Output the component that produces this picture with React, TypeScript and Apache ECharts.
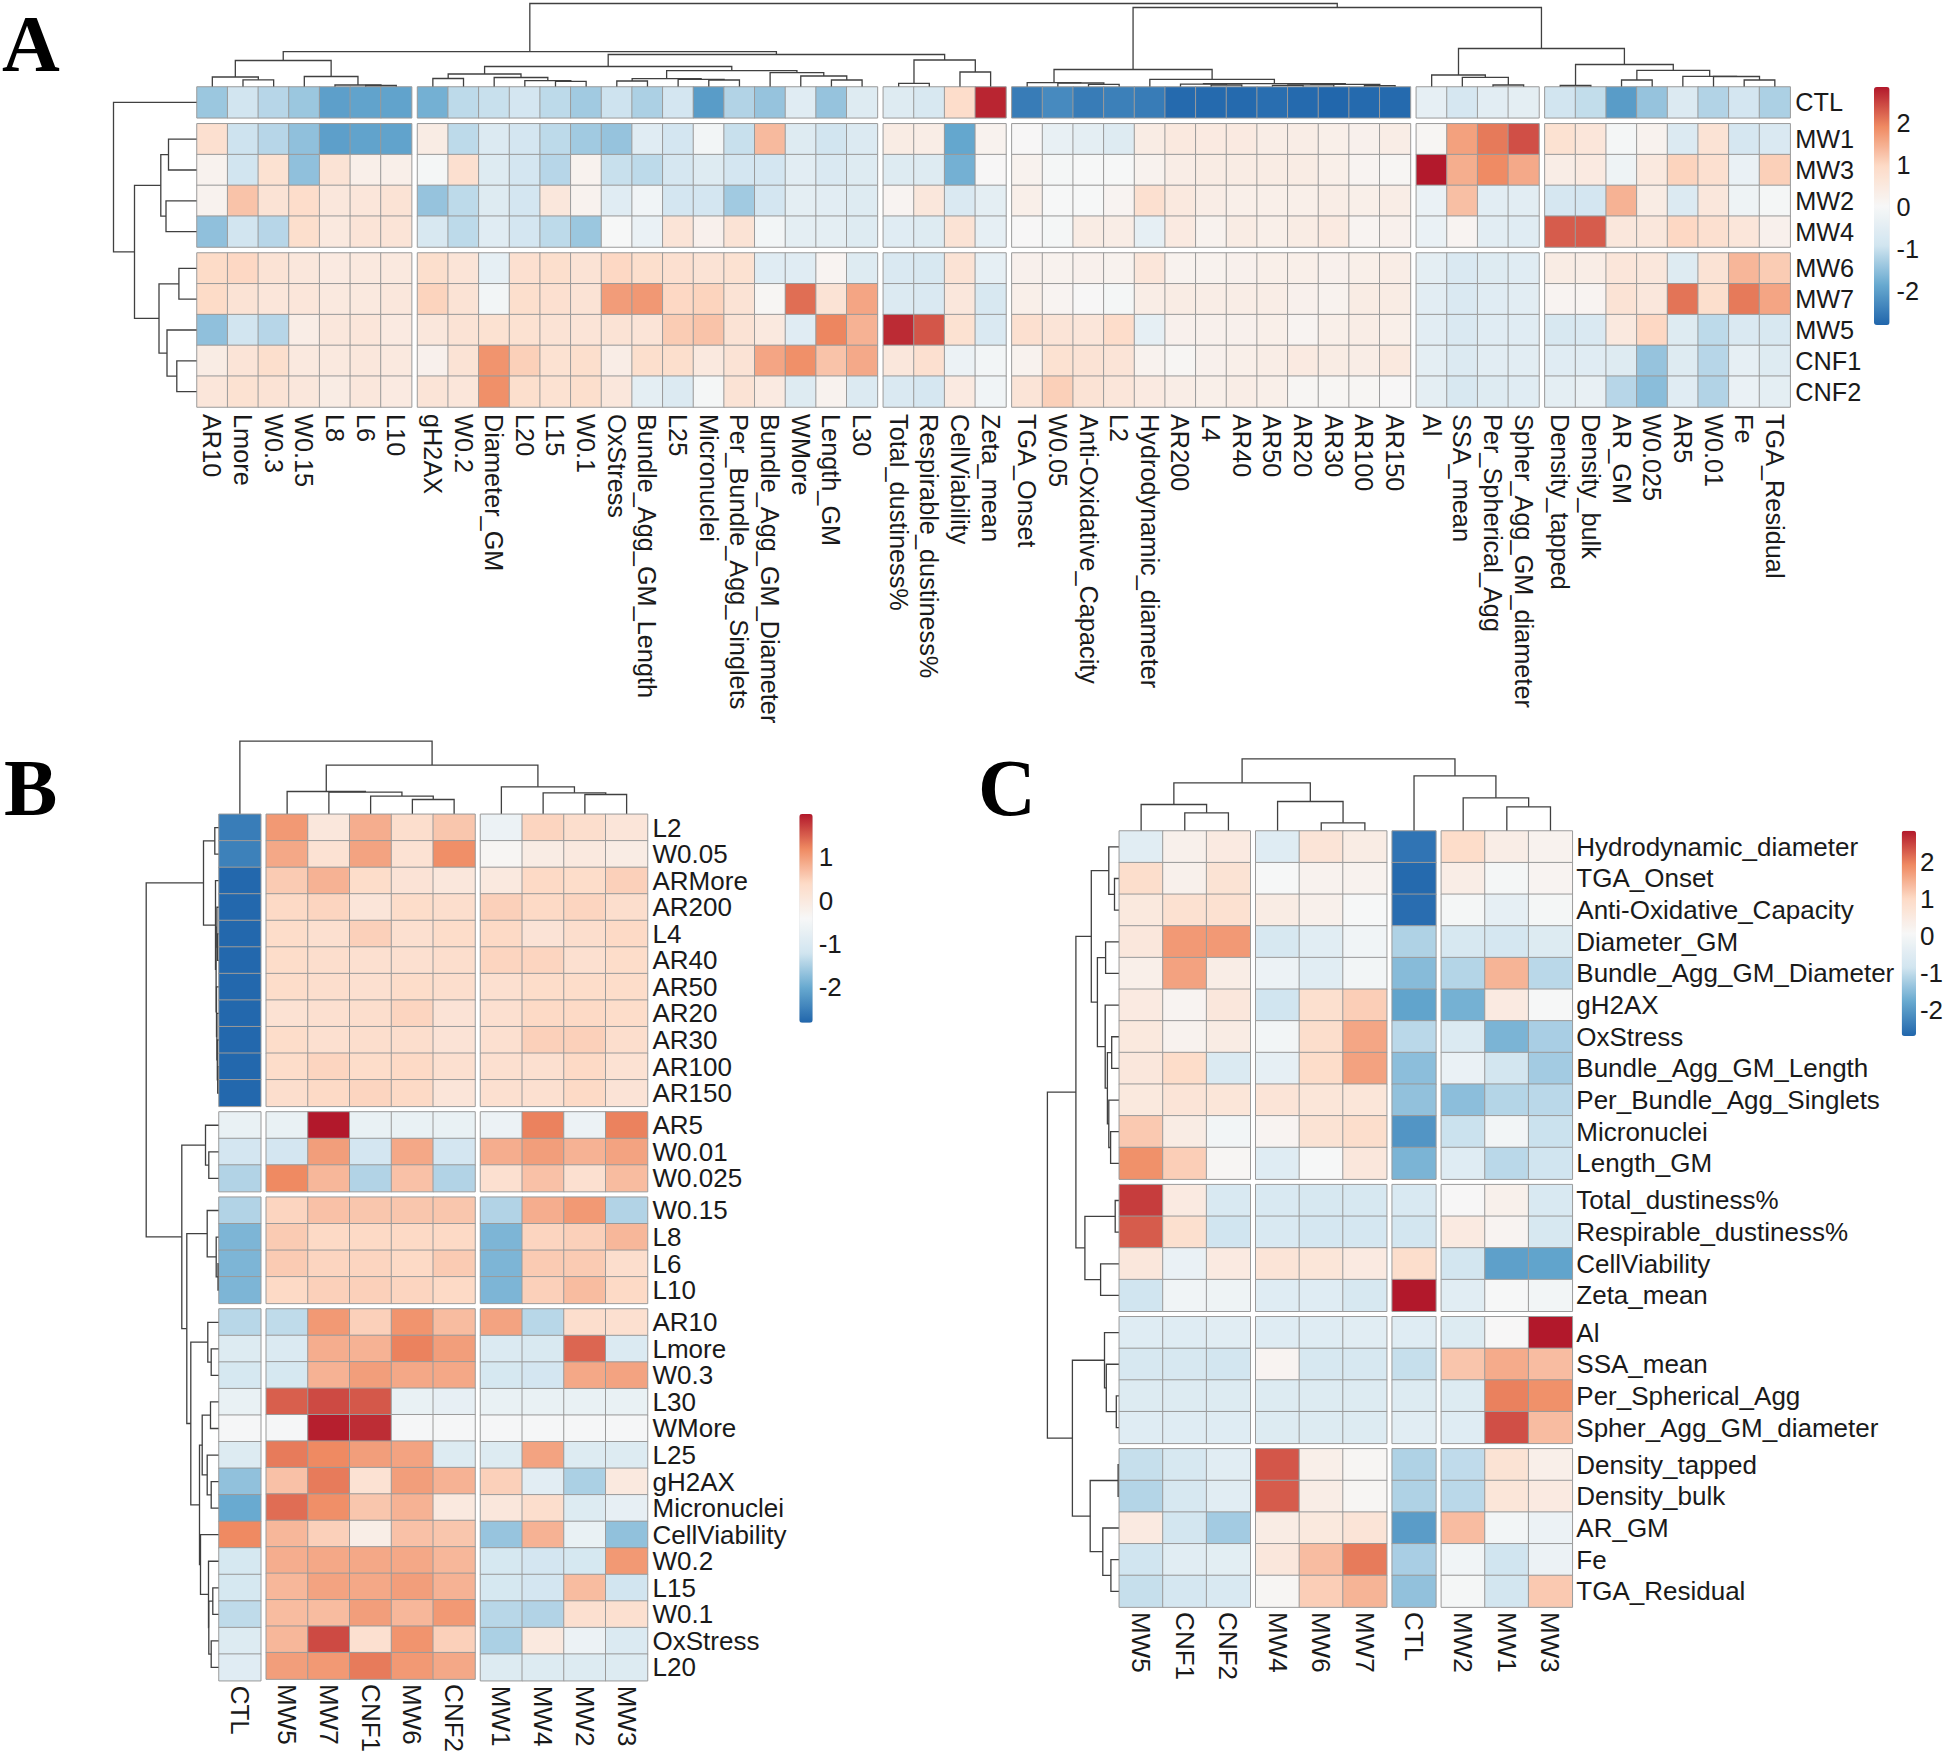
import React, { useEffect, useRef } from "react";
import * as echarts from "echarts";

type Tree = string | [number, Tree, Tree];

const palette = ["#2166AC", "#67A9CF", "#D1E5F0", "#F7F7F7", "#FDDBC7", "#EF8A62", "#B2182B"];
const sansFont = '"Liberation Sans", Arial, sans-serif';
const legendTicks = [-2, -1, 0, 1, 2];

/* ---------- Panel A ---------- */
const aColBlocks = [
  ["AR10", "Lmore", "W0.3", "W0.15", "L8", "L6", "L10"],
  ["gH2AX", "W0.2", "Diameter_GM", "L20", "L15", "W0.1", "OxStress", "Bundle_Agg_GM_Length", "L25", "Micronuclei", "Per_Bundle_Agg_Singlets", "Bundle_Agg_GM_Diameter", "WMore", "Length_GM", "L30"],
  ["Total_dustiness%", "Respirable_dustiness%", "CellViability", "Zeta_mean"],
  ["TGA_Onset", "W0.05", "Anti-Oxidative_Capacity", "L2", "Hydrodynamic_diameter", "AR200", "L4", "AR40", "AR50", "AR20", "AR30", "AR100", "AR150"],
  ["Al", "SSA_mean", "Per_Spherical_Agg", "Spher_Agg_GM_diameter"],
  ["Density_tapped", "Density_bulk", "AR_GM", "W0.025", "AR5", "W0.01", "Fe", "TGA_Residual"],
];
const aRowBlocks = [["CTL"], ["MW1", "MW3", "MW2", "MW4"], ["MW6", "MW7", "MW5", "CNF1", "CNF2"]];
const aBlock1 = [
  [-1.4, -0.9, -1.15, -1.4, -2.0, -1.95, -1.95],
  [0.8, -0.95, -1.15, -1.5, -2.0, -1.95, -1.95],
  [0.2, -0.9, 0.75, -1.5, 0.7, 0.3, 0.3],
  [0.2, 1.25, 0.7, 0.9, 0.55, 0.6, 0.7],
  [-1.5, -0.9, -1.15, 0.85, 0.5, 0.65, 0.65],
  [0.95, 1.0, 0.7, 0.55, 0.45, 0.5, 0.5],
  [0.95, 0.7, 0.6, 0.6, 0.5, 0.5, 0.55],
  [-1.5, -0.9, -1.15, 0.35, 0.55, 0.6, 0.45],
  [0.4, 0.65, 0.85, 0.5, 0.5, 0.55, 0.5],
  [0.6, 0.75, 0.7, 0.55, 0.4, 0.55, 0.45],
];
const aBlock2 = [
  [-1.75, -1.1, -1.0, -0.85, -1.1, -1.35, -0.95, -1.25, -0.85, -2.05, -1.2, -1.45, -0.55, -1.45, -0.6],
  [0.4, -1.1, -0.65, -0.85, -1.1, -1.35, -1.45, -0.55, -0.85, -0.1, -1.0, 1.35, -0.6, -0.9, -0.65],
  [-0.05, 0.8, -0.6, -0.85, -1.15, 0.2, -1.0, -1.1, -0.8, -0.6, -0.85, -0.85, -0.5, -0.7, -0.6],
  [-1.45, -1.1, -0.6, -0.85, 0.55, 0.2, -0.55, -0.15, -0.85, -0.85, -1.35, -0.85, -0.45, -0.5, -0.6],
  [-0.75, -1.1, -0.55, -0.85, -1.1, -1.4, 0.0, -0.3, 0.65, 0.25, 0.7, -0.1, -0.45, -0.45, -0.6],
  [0.85, 0.65, -0.4, 0.8, 0.85, 0.7, 1.0, 0.85, 0.8, 0.7, 0.75, -0.55, -0.55, 0.15, -0.6],
  [1.05, 0.7, -0.1, 0.85, 0.8, 0.7, 1.7, 1.75, 1.0, 1.05, 0.7, 0.1, 2.15, 0.7, 1.6],
  [0.55, 0.7, 0.75, 0.75, 0.7, 0.65, 0.7, 0.65, 1.15, 1.25, 0.7, 0.5, -0.55, 1.95, 1.45],
  [0.25, 0.7, 1.8, 1.1, 0.75, 0.85, 0.35, 0.85, 0.85, 0.5, 0.7, 1.6, 1.85, 1.25, 1.55],
  [0.65, 0.6, 1.85, 0.85, 0.75, 0.85, 0.55, -0.45, -0.65, -0.05, 0.7, 0.45, -0.6, 0.2, -0.65],
];
const aBlock3 = [
  [-0.6, -0.75, 0.9, 2.75],
  [0.4, 0.35, -1.9, 0.2],
  [-0.6, -0.6, -1.75, 0.05],
  [0.15, 0.55, -0.7, -0.45],
  [-0.55, -0.6, 0.7, -0.4],
  [-0.7, -0.75, 0.7, -0.4],
  [-0.65, -0.7, 0.55, -0.75],
  [2.7, 2.35, 0.75, -0.7],
  [0.55, 0.8, -0.25, -0.1],
  [-0.7, -0.8, 0.45, -0.15],
];
const aBlock4 = [
  [-2.5, -2.3, -2.5, -2.45, -2.5, -2.75, -2.75, -2.75, -2.7, -2.75, -2.8, -2.75, -2.75],
  [0.05, -0.35, -0.45, -0.6, 0.4, 0.5, 0.45, 0.45, 0.35, 0.35, 0.3, 0.25, 0.35],
  [0.2, -0.05, 0.0, 0.0, 0.2, 0.35, 0.4, 0.4, 0.4, 0.4, 0.3, 0.15, 0.1],
  [0.3, 0.0, 0.0, 0.15, 0.8, 0.5, 0.35, 0.3, 0.3, 0.3, 0.35, 0.3, 0.35],
  [0.05, -0.05, 0.4, 0.35, -0.4, 0.45, 0.2, 0.4, 0.3, 0.4, 0.45, 0.15, 0.25],
  [0.25, 0.2, 0.25, 0.2, 0.6, 0.2, 0.2, 0.25, 0.3, 0.3, 0.25, 0.3, 0.35],
  [0.3, 0.15, 0.05, -0.05, 0.35, 0.4, 0.35, 0.35, 0.35, 0.25, 0.2, 0.4, 0.4],
  [0.8, 0.65, 0.6, 0.9, -0.4, 0.25, 0.25, 0.25, 0.3, 0.15, 0.3, 0.35, 0.3],
  [0.2, 0.75, 0.7, 0.65, 0.2, 0.1, 0.25, 0.3, 0.35, 0.45, 0.4, 0.35, 0.5],
  [0.65, 1.1, 0.7, 0.6, 0.45, 0.35, 0.3, 0.35, 0.3, 0.1, 0.1, 0.1, 0.05],
];
const aBlock5 = [
  [-0.4, -0.8, -0.5, -0.45],
  [0.1, 1.65, 2.05, 2.4],
  [2.85, 1.5, 1.9, 1.55],
  [-0.3, 1.3, -0.5, -0.5],
  [-0.3, 0.15, -0.5, -0.55],
  [-0.45, -0.7, -0.6, -0.55],
  [-0.5, -0.7, -0.55, -0.5],
  [-0.5, -0.7, -0.55, -0.55],
  [-0.45, -0.65, -0.5, -0.5],
  [-0.45, -0.75, -0.6, -0.55],
];
const aBlock6 = [
  [-0.9, -1.05, -2.05, -1.45, -0.65, -1.2, -0.85, -1.25],
  [0.75, 0.6, -0.05, 0.2, -0.65, 0.7, -0.8, -0.7],
  [0.35, 0.45, -0.2, 0.5, 1.05, 0.8, -0.3, 1.1],
  [-0.8, -0.85, 1.45, 0.4, -0.65, 0.55, -0.2, -0.05],
  [2.3, 2.3, 0.55, 0.55, 1.0, 0.8, 0.6, 0.25],
  [0.4, 0.35, 0.6, 0.55, -0.6, 0.7, 1.4, 1.15],
  [0.15, 0.15, 0.7, 0.55, 2.1, 0.85, 2.05, 1.6],
  [-0.75, -0.7, 0.5, 1.0, -0.6, -1.1, -0.7, -0.75],
  [-0.55, -0.55, -0.6, -1.45, -0.6, -1.15, -0.4, -0.6],
  [-0.45, -0.35, -1.15, -1.55, -0.55, -1.2, -0.3, -0.45],
];
const aValues = aBlock1.map((_, r) =>
  [aBlock1, aBlock2, aBlock3, aBlock4, aBlock5, aBlock6].flatMap((b) => b[r])
);
const aColTree: Tree = [83,
  [34.8,
    [26, [9.5, "AR10", [6.7, "Lmore", "W0.3"]], [10, "W0.15", [1.5, "L8", [1, "L6", "L10"]]]],
    [32,
      [20,
        [12.5, [8, "gH2AX", "W0.2"], [9, "Diameter_GM", [5.8, "L20", [5.2, "L15", "W0.1"]]]],
        [15.8,
          [7.8, [5.5, "OxStress", "Bundle_Agg_GM_Length"], [7.2, "L25", [6.5, "Micronuclei", "Per_Bundle_Agg_Singlets"]]],
          [13.8, "Bundle_Agg_GM_Diameter", [10.5, "WMore", [6.5, "Length_GM", "L30"]]]]],
      [26.5, [3.2, "Total_dustiness%", "Respirable_dustiness%"], [14.5, "CellViability", "Zeta_mean"]]]],
  [79,
    [17,
      [3.8, "TGA_Onset", [3.5, "W0.05", [2.2, "Anti-Oxidative_Capacity", "L2"]]],
      [7.2, "Hydrodynamic_diameter", [2.8, [2.4, "AR200", [1.5, "L4", "AR40"]], [2.2, [1.6, [1.2, "AR50", "AR20"], "AR30"], [0.9, "AR100", "AR150"]]]]],
    [38,
      [11.5, "Al", [9.2, "SSA_mean", [1.5, "Per_Spherical_Agg", "Spher_Agg_GM_diameter"]]],
      [22, [1, "Density_tapped", "Density_bulk"], [16.2, [6.5, "AR_GM", "W0.025"], [10.2, "AR5", [10, "W0.01", [6.5, "Fe", "TGA_Residual"]]]]]]]];
const aRowTree: Tree = [83, "CTL", [62, [35.7, [28, "MW1", "MW3"], [30.5, "MW2", "MW4"]], [37.5, [17.6, "MW6", "MW7"], [29.5, "MW5", [19.7, "CNF1", "CNF2"]]]]];

/* ---------- Panel B ---------- */
const bColBlocks = [["CTL"], ["MW5", "MW7", "CNF1", "MW6", "CNF2"], ["MW1", "MW4", "MW2", "MW3"]];
const bRowBlocks = [
  ["L2", "W0.05", "ARMore", "AR200", "L4", "AR40", "AR50", "AR20", "AR30", "AR100", "AR150"],
  ["AR5", "W0.01", "W0.025"],
  ["W0.15", "L8", "L6", "L10"],
  ["AR10", "Lmore", "W0.3", "L30", "WMore", "L25", "gH2AX", "Micronuclei", "CellViability", "W0.2", "L15", "W0.1", "OxStress", "L20"],
];
const bValues = [
  [-2.55, 1.05, 0.05, 0.85, 0.3, 0.6, -0.65, 0.45, 0.3, 0.1],
  [-2.5, 0.9, 0.2, 0.95, 0.2, 1.15, -0.35, -0.1, 0.0, -0.1],
  [-2.8, 0.55, 0.8, 0.35, 0.15, 0.05, 0.0, 0.4, 0.35, 0.5],
  [-2.8, 0.4, 0.45, 0.1, 0.35, 0.3, 0.5, 0.4, 0.45, 0.3],
  [-2.8, 0.35, 0.25, 0.5, 0.25, 0.35, 0.4, 0.15, 0.3, 0.4],
  [-2.8, 0.35, 0.3, 0.25, 0.25, 0.3, 0.45, 0.45, 0.25, 0.35],
  [-2.8, 0.35, 0.3, 0.25, 0.35, 0.3, 0.25, 0.35, 0.35, 0.35],
  [-2.8, 0.2, 0.25, 0.3, 0.45, 0.15, 0.25, 0.4, 0.4, 0.35],
  [-2.8, 0.35, 0.25, 0.3, 0.3, 0.15, 0.25, 0.5, 0.5, 0.3],
  [-2.8, 0.35, 0.45, 0.35, 0.4, 0.25, 0.25, 0.25, 0.4, 0.2],
  [-2.8, 0.3, 0.4, 0.45, 0.4, 0.1, 0.25, 0.25, 0.4, 0.15],
  [-0.7, -0.7, 2.0, -0.7, -0.7, -0.7, -0.65, 1.25, -0.65, 1.25],
  [-1.15, -1.15, 1.0, -1.15, 0.9, -1.15, 0.85, 1.0, 0.8, 0.95],
  [-1.45, 1.2, 0.75, -1.45, 0.65, -1.45, 0.25, 0.65, 0.25, 0.7],
  [-1.45, 0.45, 0.65, 0.6, 0.6, 0.6, -1.45, 0.85, 1.05, -1.45],
  [-1.85, 0.55, 0.4, 0.4, 0.4, 0.4, -1.85, 0.45, 0.5, 0.75],
  [-1.85, 0.55, 0.45, 0.45, 0.4, 0.55, -1.85, 0.55, 0.55, 0.3],
  [-1.85, 0.4, 0.5, 0.5, 0.45, 0.4, -1.85, 0.5, 0.7, 0.4],
  [-1.4, -1.35, 1.05, 0.5, 1.1, 0.7, 0.95, -1.4, 0.3, 0.25],
  [-0.95, -1.0, 0.85, 0.8, 1.25, 1.0, -1.0, -1.05, 1.45, -1.0],
  [-1.1, -1.1, 0.8, 1.0, 0.9, 0.9, -1.1, -1.15, 0.9, 0.95],
  [-0.7, 1.5, 1.65, 1.55, -0.7, -0.75, -0.7, -0.7, -0.7, -0.7],
  [-0.45, -0.45, 1.95, 1.85, -0.45, -0.45, -0.45, -0.45, -0.45, -0.45],
  [-0.95, 1.3, 1.2, 1.0, 0.95, -0.95, -0.95, 0.95, -0.95, -0.95],
  [-1.7, 0.65, 1.3, 0.2, 1.0, 0.8, 0.5, -0.85, -1.5, 0.0],
  [-2.0, 1.4, 1.15, 0.6, 0.8, 0.0, 0.05, 0.3, -0.95, -0.75],
  [1.2, 0.75, 0.5, -0.15, 0.65, 0.6, -1.65, 0.8, -0.7, -1.7],
  [-1.1, 0.85, 0.9, 0.9, 0.9, 0.75, -1.1, -1.15, -1.1, 1.05],
  [-1.1, 0.75, 0.95, 0.9, 1.0, 0.8, -1.1, -1.15, 0.7, -1.2],
  [-1.35, 0.7, 0.7, 1.0, 0.75, 1.05, -1.4, -1.45, 0.25, 0.25],
  [-0.95, 0.75, 1.65, 0.25, 1.1, 0.5, -1.5, 0.0, -0.65, -1.0],
  [-0.9, 1.0, 1.05, 1.3, 1.05, 0.9, -0.95, -0.95, -0.95, -0.95],
];
const bColTree: Tree = [72.7, "CTL", [48.7, [22.3, "MW5", [21.7, "MW7", [17.7, "CNF1", [14.3, "MW6", "CNF2"]]]], [27, "MW1", [21, "MW4", [19.3, "MW2", "MW3"]]]]];
const bRowTree: Tree = [72.3,
  [15, [3.7, "L2", "W0.05"], [3, "ARMore", [2.4, [1.6, "AR200", [1, "L4", "AR40"]], [2, "AR50", [1.6, "AR20", [1.2, "AR30", [0.8, "AR100", "AR150"]]]]]]],
  [36.7,
    [13, "AR5", [9.7, "W0.01", "W0.025"]],
    [31.7,
      [11.3, "W0.15", [2.3, "L8", [0.5, "L6", "L10"]]],
      [27.7,
        [10.7, "AR10", [7.3, "Lmore", "W0.3"]],
        [19,
          [16.3, [8, "L30", "WMore"], [11.3, "L25", [7.3, "gH2AX", "Micronuclei"]]],
          [18, "CellViability", [10, "W0.2", [9.7, [5.7, "L15", "W0.1"], [7.3, "OxStress", "L20"]]]]]]]]];

/* ---------- Panel C ---------- */
const cColBlocks = [["MW5", "CNF1", "CNF2"], ["MW4", "MW6", "MW7"], ["CTL"], ["MW2", "MW1", "MW3"]];
const cRowBlocks = [
  ["Hydrodynamic_diameter", "TGA_Onset", "Anti-Oxidative_Capacity", "Diameter_GM", "Bundle_Agg_GM_Diameter", "gH2AX", "OxStress", "Bundle_Agg_GM_Length", "Per_Bundle_Agg_Singlets", "Micronuclei", "Length_GM"],
  ["Total_dustiness%", "Respirable_dustiness%", "CellViability", "Zeta_mean"],
  ["Al", "SSA_mean", "Per_Spherical_Agg", "Spher_Agg_GM_diameter"],
  ["Density_tapped", "Density_bulk", "AR_GM", "Fe", "TGA_Residual"],
];
const cValues = [
  [-0.45, 0.3, 0.5, -0.5, 0.7, 0.45, -2.5, 0.95, 0.4, 0.25],
  [0.9, 0.3, 0.75, 0.05, 0.25, 0.25, -2.65, 0.4, 0.0, 0.2],
  [0.55, 0.8, 0.8, 0.45, 0.3, 0.05, -2.6, 0.0, -0.35, 0.0],
  [0.6, 1.75, 1.75, -0.7, -0.45, -0.1, -1.15, -0.7, -0.75, -0.55],
  [0.35, 1.65, 0.4, -0.2, -0.45, -0.05, -1.5, -1.1, 1.45, -1.05],
  [0.5, 0.2, 0.6, -0.85, 0.85, 1.15, -1.85, -1.65, 0.5, 0.05],
  [0.55, 0.25, 0.45, -0.05, 0.9, 1.6, -1.05, -0.6, -1.6, -1.2],
  [0.6, 0.95, -0.6, -0.35, 0.95, 1.65, -1.45, -0.25, -0.8, -1.25],
  [0.55, 0.7, 0.65, 0.7, 0.65, 0.65, -1.4, -1.45, -1.1, -1.05],
  [1.2, 0.45, -0.05, 0.2, 0.75, 0.9, -2.05, -0.9, -0.05, -0.9],
  [1.85, 1.15, 0.15, -0.5, 0.05, 0.6, -1.6, -0.5, -1.05, -0.85],
  [2.55, 0.5, -0.65, -0.65, -0.7, -0.7, -0.65, 0.1, 0.3, -0.65],
  [2.3, 0.85, -0.85, -0.65, -0.75, -0.75, -0.8, 0.5, 0.2, -0.7],
  [0.6, -0.25, 0.5, 0.7, 0.65, 0.5, 0.9, -0.8, -1.9, -1.85],
  [-0.85, -0.1, -0.15, -0.5, -0.5, -0.7, 2.85, -0.45, 0.05, -0.05],
  [-0.5, -0.5, -0.45, -0.5, -0.5, -0.45, -0.5, -0.55, 0.1, 2.85],
  [-0.7, -0.7, -0.8, 0.2, -0.7, -0.7, -0.95, 1.25, 1.55, 1.35],
  [-0.55, -0.55, -0.55, -0.55, -0.55, -0.55, -0.55, -0.55, 2.0, 1.85],
  [-0.5, -0.5, -0.5, -0.55, -0.55, -0.55, -0.45, -0.5, 2.4, 1.35],
  [-0.95, -0.7, -0.45, 2.35, 0.35, 0.15, -1.15, -1.0, 0.75, 0.35],
  [-1.1, -0.7, -0.45, 2.3, 0.4, 0.15, -1.15, -1.05, 0.65, 0.5],
  [0.5, -0.8, -1.25, 0.45, 0.55, 0.7, -1.95, 1.35, -0.05, -0.2],
  [-0.85, -0.45, -0.4, 0.6, 1.35, 2.05, -1.2, -0.1, -0.85, -0.2],
  [-0.95, -0.75, -0.65, 0.15, 1.15, 1.45, -1.4, 0.0, -0.8, 1.2],
];
const cColTree: Tree = [71.7, [47.7, [26, "MW5", [17.7, "CNF1", "CNF2"]], [29, "MW4", [7.7, "MW6", "MW7"]]], [54.7, "CTL", [32.7, "MW2", [23.7, "MW1", "MW3"]]]];
const cRowTree: Tree = [71.4,
  [42.9,
    [27.5,
      [10, "Hydrodynamic_diameter", [4.3, "TGA_Onset", "Anti-Oxidative_Capacity"]],
      [21.4, [13.2, "Diameter_GM", "Bundle_Agg_GM_Diameter"], [13.6, "gH2AX", [11.4, [7.1, "OxStress", "Bundle_Agg_GM_Length"], [10, "Per_Bundle_Agg_Singlets", [8.2, "Micronuclei", "Length_GM"]]]]]],
    [33.9, [3.6, "Total_dustiness%", "Respirable_dustiness%"], [18.2, "CellViability", "Zeta_mean"]]],
  [46.4,
    [14.3, "Al", [12.5, "SSA_mean", [2.5, "Per_Spherical_Agg", "Spher_Agg_GM_diameter"]]],
    [28.6, [0.7, "Density_tapped", "Density_bulk"], [16, "AR_GM", [7.9, "Fe", "TGA_Residual"]]]]];

/* ---------- layouts ---------- */
const panels = [
  {
    colBlocks: aColBlocks, rowBlocks: aRowBlocks, values: aValues, colTree: aColTree, rowTree: aRowTree,
    left: 197, top: 87, cellW: 30.66, cellH: 30.8, gapX: 5.9, gapY: 6, fontSize: 25.3, labelMargin: 5, colLabelMargin: 7,
    colH: 84, rowH: 84, min: -2.81, max: 2.86,
    bar: { left: 1874, top: 87, width: 15.6, height: 238, margin: 7 },
  },
  {
    colBlocks: bColBlocks, rowBlocks: bRowBlocks, values: bValues, colTree: bColTree, rowTree: bRowTree,
    left: 219, top: 814.3, cellW: 41.75, cellH: 26.55, gapX: 5.5, gapY: 5.6, fontSize: 26, labelMargin: 5, colLabelMargin: 5,
    colH: 74, rowH: 74, min: -2.82, max: 2.0,
    bar: { left: 799.3, top: 814, width: 13.4, height: 208.7, margin: 6 },
  },
  {
    colBlocks: cColBlocks, rowBlocks: cRowBlocks, values: cValues, colTree: cColTree, rowTree: cRowTree,
    left: 1119.3, top: 831, cellW: 43.65, cellH: 31.65, gapX: 5.5, gapY: 5.5, fontSize: 26, labelMargin: 4, colLabelMargin: 5,
    colH: 73, rowH: 73, min: -2.7, max: 2.85,
    bar: { left: 1901.7, top: 830.7, width: 14.3, height: 205.3, margin: 7 },
  },
];

const letters = [
  { text: "A", x: 2, y: 3.5 },
  { text: "B", x: 4, y: 748 },
  { text: "C", x: 978, y: 748 },
];

/* Flatten a dendrogram into one bracket per merge, from leaf positions. */
function bracketRows(tree: Tree, pos: (l: string) => number) {
  const rows: number[][] = [];
  const walk = (n: Tree): [number, number] => {
    if (typeof n === "string") return [pos(n), 0];
    const [h, a, b] = n;
    const [pa, ha] = walk(a);
    const [pb, hb] = walk(b);
    rows.push([pa, ha, pb, hb, h]);
    return [(pa + pb) / 2, h];
  };
  walk(tree);
  return rows;
}

function buildOption() {
  const grid: any[] = [];
  const xAxis: any[] = [];
  const yAxis: any[] = [];
  const series: any[] = [];
  const visualMap: any[] = [];
  const lineStyle = { stroke: "#404040", lineWidth: 1.3, fill: null };

  const hiddenValue = (min: number, max: number, inverse = false) => ({
    type: "value", min, max, inverse, show: false, splitLine: { show: false },
  });

  panels.forEach((p) => {
    const heatIdx: number[] = [];
    let rowOffset = 0;
    let top = p.top;
    p.rowBlocks.forEach((rows, rb) => {
      let colOffset = 0;
      let left = p.left;
      p.colBlocks.forEach((cols, cb) => {
        const gi = grid.length;
        const width = cols.length * p.cellW;
        const height = rows.length * p.cellH;
        grid.push({ left, top, width, height, containLabel: false });
        xAxis.push({
          gridIndex: gi, type: "category", data: cols, position: "bottom",
          axisLine: { show: false }, axisTick: { show: false }, splitLine: { show: false },
          axisLabel: {
            show: rb === p.rowBlocks.length - 1, rotate: -90, interval: 0, margin: p.colLabelMargin,
            fontSize: p.fontSize, color: "#1a1a1a", fontFamily: sansFont,
          },
        });
        yAxis.push({
          gridIndex: gi, type: "category", data: rows, inverse: true, position: "right",
          axisLine: { show: false }, axisTick: { show: false }, splitLine: { show: false },
          axisLabel: {
            show: cb === p.colBlocks.length - 1, interval: 0, margin: p.labelMargin,
            fontSize: p.fontSize, color: "#1a1a1a", fontFamily: sansFont,
          },
        });
        const data: number[][] = [];
        rows.forEach((_, r) =>
          cols.forEach((_, c) => data.push([c, r, p.values[rowOffset + r][colOffset + c]]))
        );
        heatIdx.push(series.length);
        series.push({
          type: "heatmap", xAxisIndex: gi, yAxisIndex: gi, data, silent: true, progressive: 0,
          itemStyle: { borderColor: "#9a9a9a", borderWidth: 1 },
        });
        colOffset += cols.length;
        left += width + p.gapX;
      });
      rowOffset += rows.length;
      top += rows.length * p.cellH + p.gapY;
    });
    const totalW = left0(p.colBlocks, p.cellW, p.gapX);
    const totalH = left0(p.rowBlocks, p.cellH, p.gapY);

    // Column dendrogram: x in pixel-like cell position, y in merge height.
    const colPos = leafPositions(p.colBlocks, p.cellW, p.gapX);
    let gi = grid.length;
    grid.push({ left: p.left, top: p.top - 0.5 - p.colH, width: totalW, height: p.colH });
    xAxis.push({ gridIndex: gi, ...hiddenValue(0, totalW) });
    yAxis.push({ gridIndex: gi, ...hiddenValue(0, p.colH) });
    series.push({
      type: "custom", xAxisIndex: gi, yAxisIndex: gi, silent: true, clip: false,
      data: bracketRows(p.colTree, colPos),
      renderItem: (_: any, api: any) => ({
        type: "polyline",
        shape: {
          points: [
            api.coord([api.value(0), api.value(1)]),
            api.coord([api.value(0), api.value(4)]),
            api.coord([api.value(2), api.value(4)]),
            api.coord([api.value(2), api.value(3)]),
          ],
        },
        style: lineStyle,
      }),
    });

    // Row dendrogram: x in merge height (growing to the left), y in position.
    const rowPos = leafPositions(p.rowBlocks, p.cellH, p.gapY);
    gi = grid.length;
    grid.push({ left: p.left - 0.5 - p.rowH, top: p.top, width: p.rowH, height: totalH });
    xAxis.push({ gridIndex: gi, ...hiddenValue(0, p.rowH, true) });
    yAxis.push({ gridIndex: gi, ...hiddenValue(0, totalH, true) });
    series.push({
      type: "custom", xAxisIndex: gi, yAxisIndex: gi, silent: true, clip: false,
      data: bracketRows(p.rowTree, rowPos),
      renderItem: (_: any, api: any) => ({
        type: "polyline",
        shape: {
          points: [
            api.coord([api.value(1), api.value(0)]),
            api.coord([api.value(4), api.value(0)]),
            api.coord([api.value(4), api.value(2)]),
            api.coord([api.value(3), api.value(2)]),
          ],
        },
        style: lineStyle,
      }),
    });

    // Colour bar and its tick labels.
    visualMap.push({
      type: "continuous", min: p.min, max: p.max, seriesIndex: heatIdx, inRange: { color: palette },
      left: p.bar.left, top: p.bar.top, itemWidth: p.bar.width, itemHeight: p.bar.height,
      padding: 0, calculable: false, realtime: false, hoverLink: false, text: null,
      orient: "vertical",
    });
    gi = grid.length;
    grid.push({ left: p.bar.left, top: p.bar.top, width: p.bar.width, height: p.bar.height });
    xAxis.push({ gridIndex: gi, ...hiddenValue(0, 1) });
    yAxis.push({
      gridIndex: gi, type: "value", min: p.min, max: p.max, position: "right",
      axisLine: { show: false }, axisTick: { show: false }, splitLine: { show: false },
      axisLabel: {
        customValues: legendTicks.filter((t) => t > p.min && t < p.max - 0.01),
        margin: p.bar.margin, fontSize: p.fontSize, color: "#1a1a1a", fontFamily: sansFont,
      },
    });
  });

  return {
    animation: false,
    backgroundColor: "#ffffff",
    tooltip: { show: false },
    grid, xAxis, yAxis, series, visualMap,
    graphic: letters.map((l) => ({
      type: "text", x: l.x, y: l.y, silent: true,
      style: { text: l.text, fill: "#000", font: 'bold 80px "Liberation Serif", serif' },
    })),
  };
}

function left0(blocks: string[][], cell: number, gap: number) {
  return blocks.reduce((s, b) => s + b.length * cell, 0) + gap * (blocks.length - 1);
}

function leafPositions(blocks: string[][], cell: number, gap: number) {
  const map = new Map<string, number>();
  let at = 0;
  blocks.forEach((b) => {
    b.forEach((l, i) => map.set(l, at + (i + 0.5) * cell));
    at += b.length * cell + gap;
  });
  return (l: string) => map.get(l) as number;
}

export default function App() {
  const ref = useRef<HTMLDivElement>(null);
  useEffect(() => {
    const chart = echarts.init(ref.current!, undefined, { renderer: "svg" });
    chart.setOption(buildOption() as any);
    return () => chart.dispose();
  }, []);
  return <div ref={ref} style={{ position: "absolute", left: 0, top: 0, width: 1946, height: 1755 }} />;
}
